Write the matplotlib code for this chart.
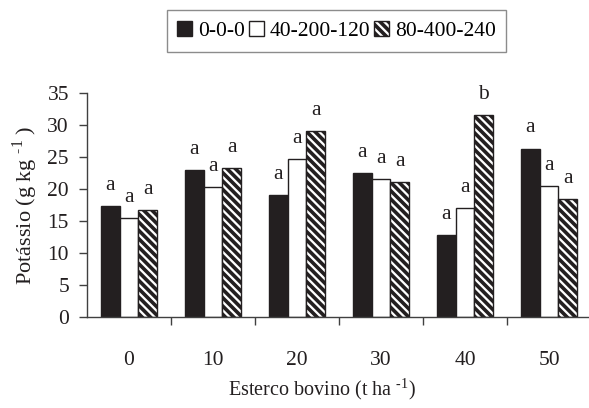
import matplotlib
matplotlib.use("Agg")
import matplotlib.pyplot as plt
import numpy as np
from matplotlib.patches import Patch

plt.rcParams['font.family'] = ['Liberation Serif', 'DejaVu Serif']
plt.rcParams['mathtext.fontset'] = 'custom'
plt.rcParams['mathtext.rm'] = 'Liberation Serif'
plt.rcParams['hatch.linewidth'] = 2.6
plt.rcParams['hatch.color'] = '#231f20'

categories = ['0', '10', '20', '30', '40', '50']
series_names = ['0-0-0', '40-200-120', '80-400-240']
s1 = [17.3, 23.0, 19.0, 22.5, 12.8, 26.3]
s2 = [15.4, 20.3, 24.6, 21.6, 17.0, 20.5]
s3 = [16.7, 23.2, 29.0, 21.1, 31.5, 18.4]
letters1 = ['a', 'a', 'a', 'a', 'a', 'a']
letters2 = ['a', 'a', 'a', 'a', 'a', 'a']
letters3 = ['a', 'a', 'a', 'a', 'b', 'a']

W, H = 589, 408
fig = plt.figure(figsize=(W / 100, H / 100), dpi=100)
ax = fig.add_axes([87 / W, 1 - 317.3 / H, 504 / W, (317.3 - 92.7) / H])

dark = '#231f20'
x = np.arange(len(categories))
bw = 0.225
styles = [dict(color=dark, edgecolor=dark),
          dict(color='white', edgecolor=dark),
          dict(color='white', edgecolor=dark, hatch='\\\\\\\\')]
series = [s1, s2, s3]
lets = [letters1, letters2, letters3]
for i, (vals, st, lt) in enumerate(zip(series, styles, lets)):
    pos = x + (i - 1) * bw
    ax.bar(pos, vals, width=bw, linewidth=1.0, zorder=2, **st)
    for p, v, l in zip(pos, vals, lt):
        ax.annotate(l, (p, v), xytext=(0, 8), textcoords='offset points',
                    ha='center', va='bottom', fontsize=15.5, color=dark)

ax.set_xlim(-0.5, len(categories) - 0.5)
ax.set_ylim(0, 35)
ax.set_yticks(np.arange(0, 36, 5))
ax.set_xticks(x)
ax.set_xticklabels(categories)
ax.set_xticks(np.arange(0.5, len(categories) - 0.5, 1), minor=True)
ax.tick_params(axis='x', which='major', length=0, pad=24, labelsize=15.5, colors=dark)
ax.tick_params(axis='x', which='minor', length=6, direction='out', color='#404040', width=1)
ax.tick_params(axis='y', length=6, direction='out', pad=7, labelsize=15.5, color='#404040', labelcolor=dark, width=1)
for s in ['top', 'right']:
    ax.spines[s].set_visible(False)
for s in ['left', 'bottom']:
    ax.spines[s].set_color('#404040')
    ax.spines[s].set_linewidth(1)

ax.set_ylabel('Potássio (g kg $^{\\mathregular{\\text{-1}}}$ )', fontsize=16, color=dark, labelpad=5)
fig.text(322 / W, 1 - 389 / H, 'Esterco bovino (t ha $^{\\mathregular{\\text{-1}}}$)', ha='center', va='center',
         fontsize=14.5, color=dark)

handles = [Patch(facecolor=dark, edgecolor=dark, label=series_names[0]),
           Patch(facecolor='white', edgecolor=dark, label=series_names[1]),
           Patch(facecolor='white', edgecolor=dark, hatch='\\\\\\\\', label=series_names[2])]
leg = fig.legend(handles=handles, loc='center', bbox_to_anchor=(336.5 / W, 1 - 31 / H),
                 ncol=3, frameon=True, fancybox=False, fontsize=15.5,
                 handlelength=0.7, handleheight=0.7, handletextpad=0.25, columnspacing=0.2,
                 borderpad=0.5, borderaxespad=0)
leg.get_frame().set_edgecolor('#707070')
leg.get_frame().set_linewidth(1)

fig.savefig('out.png', dpi=100)
